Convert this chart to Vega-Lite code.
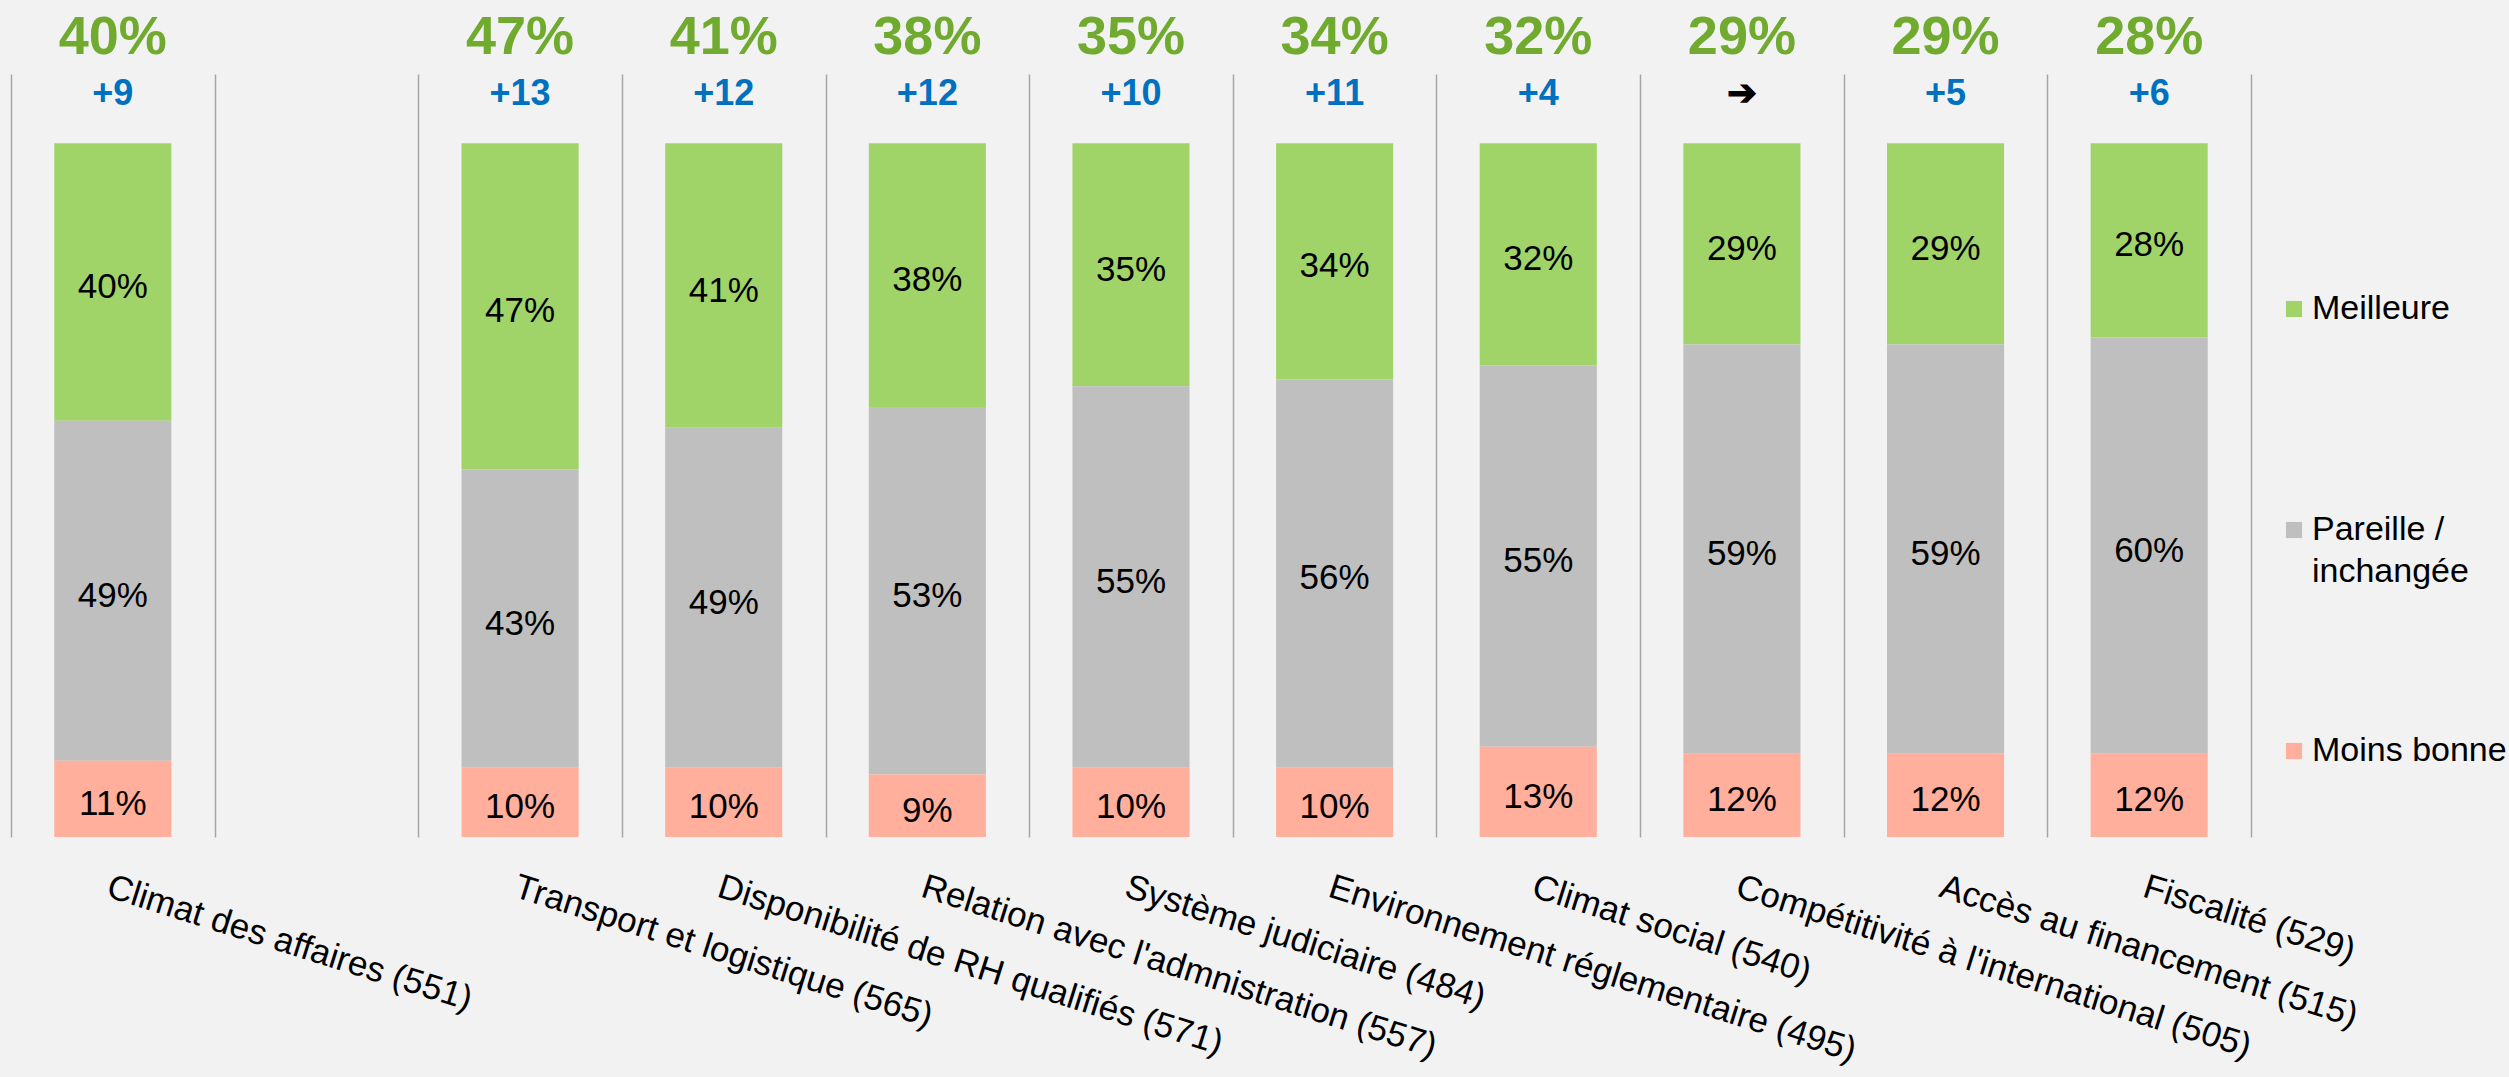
{
  "$schema": "https://vega.github.io/schema/vega-lite/v6.json",
  "autosize": {"type": "none"},
  "padding": {"left": 11, "top": 74, "right": 258, "bottom": 240},
  "width": 2240,
  "height": 763,
  "background": "#F2F2F2",
  "config": {
    "view": {"stroke": null},
    "font": "Liberation Sans",
    "style": {"guide-label": {"lineHeight": 42}}
  },
  "datasets": {
    "seg": [
      {"cat": "Climat des affaires (551)", "series": "Meilleure", "value": 0.40},
      {"cat": "Climat des affaires (551)", "series": "Pareille / inchangée", "value": 0.49},
      {"cat": "Climat des affaires (551)", "series": "Moins bonne", "value": 0.11},
      {"cat": "Transport et logistique (565)", "series": "Meilleure", "value": 0.47},
      {"cat": "Transport et logistique (565)", "series": "Pareille / inchangée", "value": 0.43},
      {"cat": "Transport et logistique (565)", "series": "Moins bonne", "value": 0.10},
      {"cat": "Disponibilité de RH qualifiés (571)", "series": "Meilleure", "value": 0.41},
      {"cat": "Disponibilité de RH qualifiés (571)", "series": "Pareille / inchangée", "value": 0.49},
      {"cat": "Disponibilité de RH qualifiés (571)", "series": "Moins bonne", "value": 0.10},
      {"cat": "Relation avec l'admnistration (557)", "series": "Meilleure", "value": 0.38},
      {"cat": "Relation avec l'admnistration (557)", "series": "Pareille / inchangée", "value": 0.53},
      {"cat": "Relation avec l'admnistration (557)", "series": "Moins bonne", "value": 0.09},
      {"cat": "Système judiciaire (484)", "series": "Meilleure", "value": 0.35},
      {"cat": "Système judiciaire (484)", "series": "Pareille / inchangée", "value": 0.55},
      {"cat": "Système judiciaire (484)", "series": "Moins bonne", "value": 0.10},
      {"cat": "Environnement réglementaire (495)", "series": "Meilleure", "value": 0.34},
      {"cat": "Environnement réglementaire (495)", "series": "Pareille / inchangée", "value": 0.56},
      {"cat": "Environnement réglementaire (495)", "series": "Moins bonne", "value": 0.10},
      {"cat": "Climat social (540)", "series": "Meilleure", "value": 0.32},
      {"cat": "Climat social (540)", "series": "Pareille / inchangée", "value": 0.55},
      {"cat": "Climat social (540)", "series": "Moins bonne", "value": 0.13},
      {"cat": "Compétitivité à l'international (505)", "series": "Meilleure", "value": 0.29},
      {"cat": "Compétitivité à l'international (505)", "series": "Pareille / inchangée", "value": 0.59},
      {"cat": "Compétitivité à l'international (505)", "series": "Moins bonne", "value": 0.12},
      {"cat": "Accès au financement (515)", "series": "Meilleure", "value": 0.29},
      {"cat": "Accès au financement (515)", "series": "Pareille / inchangée", "value": 0.59},
      {"cat": "Accès au financement (515)", "series": "Moins bonne", "value": 0.12},
      {"cat": "Fiscalité (529)", "series": "Meilleure", "value": 0.28},
      {"cat": "Fiscalité (529)", "series": "Pareille / inchangée", "value": 0.60},
      {"cat": "Fiscalité (529)", "series": "Moins bonne", "value": 0.12}
    ],
    "cats": [
      {"cat": "Climat des affaires (551)", "top": 0.40, "delta": "+9"},
      {"cat": "Transport et logistique (565)", "top": 0.47, "delta": "+13"},
      {"cat": "Disponibilité de RH qualifiés (571)", "top": 0.41, "delta": "+12"},
      {"cat": "Relation avec l'admnistration (557)", "top": 0.38, "delta": "+12"},
      {"cat": "Système judiciaire (484)", "top": 0.35, "delta": "+10"},
      {"cat": "Environnement réglementaire (495)", "top": 0.34, "delta": "+11"},
      {"cat": "Climat social (540)", "top": 0.32, "delta": "+4"},
      {"cat": "Compétitivité à l'international (505)", "top": 0.29, "delta": "➔"},
      {"cat": "Accès au financement (515)", "top": 0.29, "delta": "+5"},
      {"cat": "Fiscalité (529)", "top": 0.28, "delta": "+6"}
    ]
  },
  "encoding": {
    "x": {
      "field": "cat",
      "type": "nominal",
      "sort": null,
      "scale": {
        "domain": ["Climat des affaires (551)", " ", "Transport et logistique (565)", "Disponibilité de RH qualifiés (571)", "Relation avec l'admnistration (557)", "Système judiciaire (484)", "Environnement réglementaire (495)", "Climat social (540)", "Compétitivité à l'international (505)", "Accès au financement (515)", "Fiscalité (529)"],
        "paddingInner": 0,
        "paddingOuter": 0
      },
      "axis": {
        "title": null,
        "grid": true,
        "tickBand": "extent",
        "gridColor": "#A6A6A6",
        "gridWidth": 1.5,
        "ticks": false,
        "domain": false,
        "labelAngle": 17.5,
        "labelAlign": "left",
        "labelBaseline": "top",
        "labelPadding": 32,
        "labelFontSize": 35,
        "labelColor": "black",
        "labelLimit": 1000,
        "labelOverlap": false
      }
    }
  },
  "layer": [
    {
      "data": {"name": "seg"},
      "transform": [{"calculate": "indexof(['Moins bonne','Pareille / inchangée','Meilleure'], datum.series)", "as": "k"}],
      "mark": {"type": "bar", "width": {"band": 0.575}},
      "encoding": {
        "y": {"field": "value", "type": "quantitative", "stack": "zero", "scale": {"domain": [0, 1.1], "nice": false, "zero": true}, "axis": null},
        "color": {
          "field": "series",
          "type": "nominal",
          "scale": {"domain": ["Meilleure", "Pareille / inchangée", "Moins bonne"], "range": ["#A0D468", "#BFBFBF", "#FFAF9C"]},
          "legend": {
            "title": null,
            "orient": "none",
            "legendX": 2266,
            "legendY": 218,
            "padding": 0,
            "gridAlign": "all",
            "symbolType": "square",
            "symbolSize": 260,
            "symbolStrokeWidth": 0,
            "labelFontSize": 34,
            "labelColor": "black",
            "labelOffset": 1,
            "labelLimit": 400,
            "rowPadding": 145,
            "labelExpr": "datum.label == 'Pareille / inchangée' ? ['Pareille /', 'inchangée'] : datum.label"
          }
        },
        "order": {"field": "k", "type": "quantitative"}
      }
    },
    {
      "data": {"name": "seg"},
      "transform": [{"calculate": "indexof(['Moins bonne','Pareille / inchangée','Meilleure'], datum.series)", "as": "k"}],
      "mark": {"type": "text", "fontSize": 35, "color": "black", "dy": 5},
      "encoding": {
        "y": {"field": "value", "type": "quantitative", "stack": "zero", "bandPosition": 0.5},
        "detail": {"field": "series"},
        "order": {"field": "k", "type": "quantitative"},
        "text": {"field": "value", "type": "quantitative", "format": ".0%"}
      }
    },
    {
      "data": {"name": "cats"},
      "mark": {"type": "text", "fontSize": 54, "fontWeight": "bold", "color": "#70AA2E"},
      "encoding": {
        "y": {"datum": 1.152},
        "text": {"field": "top", "type": "quantitative", "format": ".0%"}
      }
    },
    {
      "data": {"name": "cats"},
      "mark": {"type": "text", "fontSize": 36, "fontWeight": "bold"},
      "encoding": {
        "y": {"datum": 1.071},
        "text": {"field": "delta"},
        "color": {"condition": {"test": "datum.delta == '➔'", "value": "black"}, "value": "#0070C0"}
      }
    }
  ]
}
